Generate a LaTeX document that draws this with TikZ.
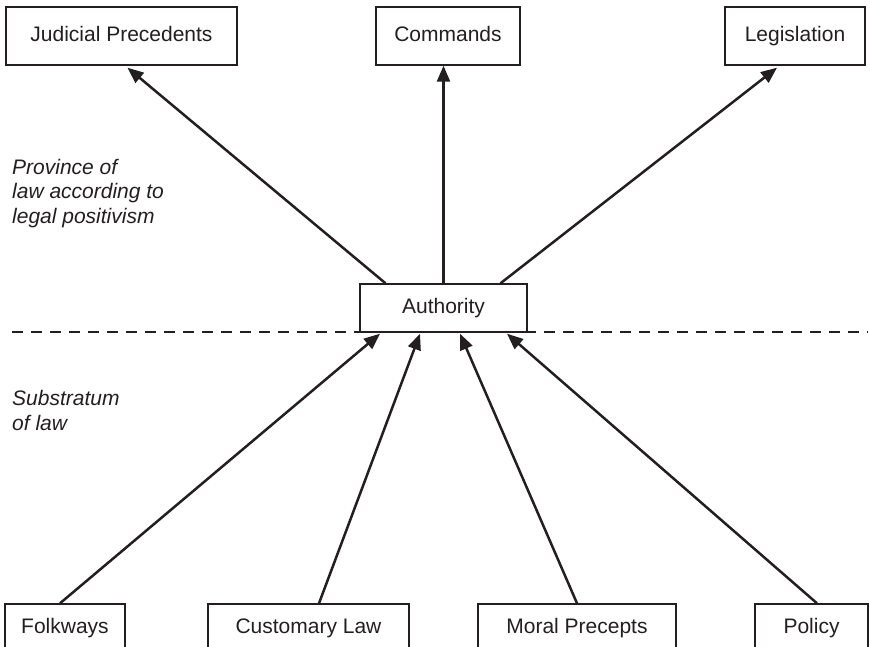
\documentclass[tikz,border=0pt]{standalone}
\usepackage{fontspec}
\setmainfont{Liberation Sans}
\usetikzlibrary{arrows.meta,calc}
\definecolor{ink}{HTML}{231F20}
\begin{document}
\begin{tikzpicture}[x=1pt,y=-1pt,
  box/.style={draw=ink,line width=1.4pt,fill=white,inner sep=0pt,text=ink,
    text height=15pt,text depth=4.5pt,
    font=\fontsize{21}{25}\selectfont},
  arr/.style={draw=ink,line width=2.5pt,-{Triangle[length=16pt,width=13pt]}},
  lbl/.style={anchor=north west,inner sep=0pt,align=left,text=ink,
    font=\fontsize{21}{24.5}\selectfont\itshape},
  divider/.style={draw=ink,line width=2.3pt,dash pattern=on 11pt off 8pt}]
\useasboundingbox (0,0) rectangle (870,647);
\clip (0,0) rectangle (870,647);
% divider
\coordinate (dl) at (12,332);
\coordinate (dr) at (868,332);
\draw[divider] (dl) -- (dr);
% top boxes
\node[box,minimum width=231pt,minimum height=58pt] (jp) at (121.5,36) {Judicial Precedents};
\node[box,minimum width=144pt,minimum height=58pt] (cmd) at (448,36) {Commands};
\node[box,minimum width=140pt,minimum height=58pt] (leg) at (795,36) {Legislation};
% authority
\node[box,minimum width=167pt,minimum height=48pt] (auth) at (443.5,308) {Authority};
% bottom boxes
\node[box,minimum width=120pt,minimum height=48pt] (folk) at (65,628) {Folkways};
\node[box,minimum width=201pt,minimum height=48pt] (cust) at (308.5,628) {Customary Law};
\node[box,minimum width=198pt,minimum height=48pt] (moral) at (577,628) {Moral Precepts};
\node[box,minimum width=113pt,minimum height=48pt] (pol) at (811.5,628) {Policy};
% labels
\node[lbl] (prov) at (12,158.7) {Province of\\law according to\\legal positivism};
\node[lbl] (sub) at (12,390.5) {Substratum\\of law};
% upward arrows from authority
\draw[arr] ([xshift=-58pt]auth.north) -- ([xshift=6pt,yshift=-2pt]jp.south);
\draw[arr] (auth.north) -- (auth.north |- cmd.south);
\draw[arr] ([xshift=57pt]auth.north) -- ([xshift=-18pt,yshift=-2pt]leg.south);
% arrows into authority
\draw[arr] ([xshift=-5pt]folk.north) -- ([xshift=-63.5pt,yshift=-1pt]auth.south);
\draw[arr] ([xshift=10.5pt]cust.north) -- ([xshift=-23.5pt,yshift=-1pt]auth.south);
\draw[arr] (moral.north) -- ([xshift=16.5pt,yshift=-1pt]auth.south);
\draw[arr] ([xshift=5.5pt]pol.north) -- ([xshift=63.5pt,yshift=-1pt]auth.south);
\end{tikzpicture}
\end{document}
